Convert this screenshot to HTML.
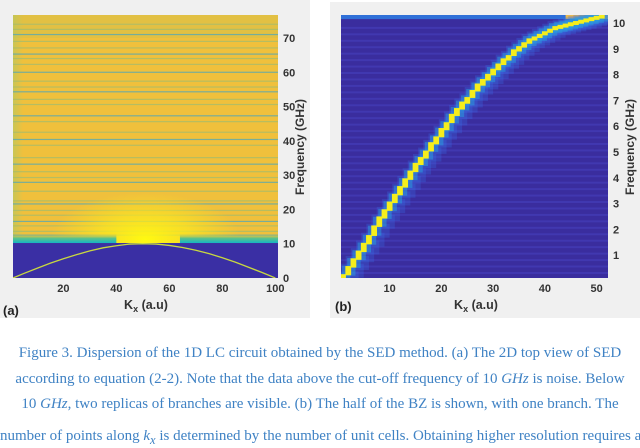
<!DOCTYPE html>
<html><head><meta charset="utf-8"><style>
body{margin:0;background:#fff;width:640px;height:431px;overflow:hidden;font-family:"Liberation Sans",sans-serif}
.cap{position:absolute;left:0;width:640px;text-align:center;font-family:"Liberation Serif",serif;font-size:15px;color:#3f82c4;white-space:nowrap}
</style></head><body>
<svg id="fig" width="640" height="431" style="position:absolute;left:0;top:0">
<defs>
<clipPath id="clipA"><rect x="13" y="15" width="265" height="263"/></clipPath>
<clipPath id="clipB"><rect x="341" y="15" width="267" height="263"/></clipPath>
<radialGradient id="glow" cx="0.5" cy="0.5" r="0.5">
<stop offset="0" stop-color="#fffa10" stop-opacity="1"/>
<stop offset="0.5" stop-color="#fbe820" stop-opacity="0.7"/>
<stop offset="1" stop-color="#f9e420" stop-opacity="0"/>
</radialGradient>
<linearGradient id="teal" x1="0" y1="1" x2="0" y2="0">
<stop offset="0" stop-color="#14b5c4"/>
<stop offset="0.5" stop-color="#5cc28a"/>
<stop offset="1" stop-color="#e8c040" stop-opacity="0"/>
</linearGradient>
<linearGradient id="edge" x1="0" y1="0" x2="1" y2="0">
<stop offset="0" stop-color="#b8c860" stop-opacity="0.7"/>
<stop offset="1" stop-color="#b8c860" stop-opacity="0"/>
</linearGradient>
</defs>
<rect x="0" y="0" width="310" height="318" fill="#f0f0f0"/>
<rect x="330" y="2" width="310" height="316" fill="#f0f0f0"/>
<g id="pa"><g id="paPlot" clip-path="url(#clipA)"></g></g>
<g id="pb"><g id="pbPlot" clip-path="url(#clipB)"></g></g>
</svg>
<div class="cap" style="top:345px">Figure 3. Dispersion of the 1D LC circuit obtained by the SED method. (a) The 2D top view of SED</div>
<div class="cap" style="top:371px">according to equation (2-2). Note that the data above the cut-off frequency of 10 <i>GHz</i> is noise. Below</div>
<div class="cap" style="top:396px">10 <i>GHz</i>, two replicas of branches are visible. (b) The half of the BZ is shown, with one branch. The</div>
<div class="cap" style="top:428px">number of points along <i>k<sub>x</sub></i> is determined by the number of unit cells. Obtaining higher resolution requires a</div>
<script>
// Panel (a) data
const aXTicks=[20,40,60,80,100];
const aYTicks=[0,10,20,30,40,50,60,70];
const aCutoff=10.2;
const aNoiseStripes=[12.5,13.6,15.2,16.5,18.3,19.7,21.6,22.5,25.3,27.9,29.3,31.0,33.2,35.1,38.7,40.4,42.5,45.6,47.3,50.6,52.1,54.3,55.7,57.4,60.0,62.3,64.0,65.3,67.1,69.0,71.0,72.5,74.0];
const aBranchK=[1,5,10,15,20,25,30,35,40,45,50,55,60,65,70,75,80,85,90,95,100];
const aBranchF=[0,1.3,2.8,4.3,5.6,6.8,7.9,8.8,9.4,9.9,10,9.9,9.5,8.9,8.1,7.1,5.9,4.6,3.1,1.6,0];
// Panel (b) data
const bXTicks=[10,20,30,40,50];
const bYTicks=[1,2,3,4,5,6,7,8,9,10];
const bK=[1,2,3,4,5,6,7,8,9,10,11,12,13,14,15,16,17,18,19,20,21,22,23,24,25,26,27,28,29,30,31,32,33,34,35,36,37,38,39,40,41,42,43,44,45,46,47,48,49,50,51];
const bF=[0.1,0.4,0.7,1.0,1.3,1.6,1.95,2.3,2.6,2.9,3.2,3.5,3.8,4.1,4.4,4.65,4.9,5.2,5.45,5.75,6.0,6.3,6.55,6.8,7.0,7.25,7.5,7.7,7.9,8.1,8.3,8.5,8.65,8.85,9.0,9.15,9.3,9.4,9.5,9.6,9.7,9.8,9.85,9.9,9.95,10.0,10.05,10.1,10.15,10.2,10.25];

const NS='http://www.w3.org/2000/svg';
function mk(parent,tag,attrs,text){const e=document.createElementNS(NS,tag);for(const k in attrs)e.setAttribute(k,attrs[k]);if(text!==undefined)e.textContent=text;parent.appendChild(e);return e;}
function kx(parent,x,y){
  const t=mk(parent,'text',{x:x,y:y,'text-anchor':'middle','font-size':12.5,'font-weight':'bold',fill:'#333'});
  mk(t,'tspan',{},'K');
  mk(t,'tspan',{'font-size':9,dy:3},'x');
  mk(t,'tspan',{dy:-3},' (a.u)');
  return t;
}

// Panel a
const aL=13,aR=278,aT=15,aB=278;
const axX=k=>aL+(k-1)/100*(aR-aL);
const axY=f=>aB-f*(aB-aT)/76.7;
const pa=document.getElementById('pa');
const pap=document.getElementById('paPlot');
const aBg=mk(pap,'rect',{x:aL,y:aT,width:aR-aL,height:aB-aT,fill:'#f0c03c'});


const aTopTint=mk(pap,'rect',{x:aL,y:aT,width:aR-aL,height:axY(70)-aT,fill:'#c8c050',opacity:0.35});


const aEdgeL=mk(pap,'rect',{x:aL,y:aT,width:10,height:axY(aCutoff)-aT,fill:'url(#edge)'});


aNoiseStripes.forEach((f,i)=>{const s=mk(pap,'rect',{x:aL,y:axY(f)-0.6,width:aR-aL,height:1.2,fill:i%3==0?'#5aa8b0':'#a8bc6a',opacity:0.8});

});
const aGlow=mk(pap,'ellipse',{cx:axX(51),cy:axY(aCutoff+1),rx:axX(51)-axX(15),ry:axY(aCutoff)-axY(24),fill:'url(#glow)'});


const aT1=mk(pap,'rect',{x:aL,y:axY(13),width:axX(40)-aL,height:axY(aCutoff)-axY(13),fill:'url(#teal)'});


const aT2=mk(pap,'rect',{x:axX(64),y:axY(13),width:aR-axX(64),height:axY(aCutoff)-axY(13),fill:'url(#teal)'});


const aLo=mk(pap,'rect',{x:aL,y:axY(aCutoff),width:aR-aL,height:aB-axY(aCutoff),fill:'#3a2fa4'});


const aPts=aBranchK.map((k,i)=>axX(k)+','+axY(aBranchF[i])).join(' ');
const aBr=mk(pap,'polyline',{points:aPts,fill:'none',stroke:'#c8d840','stroke-width':1.3});


aXTicks.forEach(v=>{const t=mk(pa,'text',{x:axX(v),y:292,'text-anchor':'middle','font-size':11,'font-weight':'bold',fill:'#333'},v);

});
aYTicks.forEach(v=>{const t=mk(pa,'text',{x:aR+5,y:axY(v)+4,'font-size':11,'font-weight':'bold',fill:'#333'},v);

});
const aXt=kx(pa,146,309);


const aYt=mk(pa,'text',{transform:'translate(304,147) rotate(-90)','text-anchor':'middle','font-size':12,'font-weight':'bold',fill:'#333'},'Frequency (GHz)');


const aLab=mk(pa,'text',{x:3,y:315,'font-size':13,'font-weight':'bold',fill:'#222'},'(a)');



// Panel b
const bL=341,bR=608,bT=15,bB=278;
const bxX=k=>bL+(k-0.6)/51.6*(bR-bL);
const byY=f=>281-f*25.8;
const pb=document.getElementById('pb');
const pbp=document.getElementById('pbPlot');
const bBg=mk(pbp,'rect',{x:bL,y:bT,width:bR-bL,height:bB-bT,fill:'#3a2d9e'});


bYTicks.forEach(v=>{for(let q=0;q<4;q++){const s=mk(pbp,'rect',{x:bL,y:byY(v-1+q*0.25+0.1),width:bR-bL,height:2,fill:'#4640bc',opacity:0.6});

}});
const bTop=mk(pbp,'rect',{x:bL,y:bT,width:bR-bL,height:byY(10.15)-bT,fill:'#3070d8'});


const bHot=mk(pbp,'rect',{x:bxX(44),y:bT,width:bR-bxX(44),height:byY(10.15)-bT,fill:'#e8b850'});


const cw=(bR-bL)/51.6;
bK.forEach((k,i)=>{const h=mk(pbp,'rect',{x:bxX(k)-cw*1.5,y:byY(bF[i])-7,width:cw*4.5,height:14,fill:'#3a6ee8',opacity:0.28});

});
bK.forEach((k,i)=>{const h=mk(pbp,'rect',{x:bxX(k)-cw*1.2,y:byY(bF[i])-5,width:cw*2.6,height:10,fill:'#2aa0e0',opacity:0.5});

});
bK.forEach((k,i)=>{const h=Math.max(4,(i>0?(byY(bF[i-1])-byY(bF[i])):7)+1.5);
const c=mk(pbp,'rect',{x:bxX(k)-cw/2-0.3,y:byY(bF[i])-h/2,width:cw+0.6,height:h,fill:'#f5ee1c'});

});
bXTicks.forEach(v=>{const t=mk(pb,'text',{x:bxX(v),y:292,'text-anchor':'middle','font-size':11,'font-weight':'bold',fill:'#333'},v);

});
bYTicks.forEach(v=>{const t=mk(pb,'text',{x:bR+5,y:byY(v)+4,'font-size':11,'font-weight':'bold',fill:'#333'},v);

});
const bXt=kx(pb,476,309);


const bYt=mk(pb,'text',{transform:'translate(634,147) rotate(-90)','text-anchor':'middle','font-size':12,'font-weight':'bold',fill:'#333'},'Frequency (GHz)');


const bLab=mk(pb,'text',{x:335,y:311,'font-size':13,'font-weight':'bold',fill:'#222'},'(b)');


</script>
</body></html>
